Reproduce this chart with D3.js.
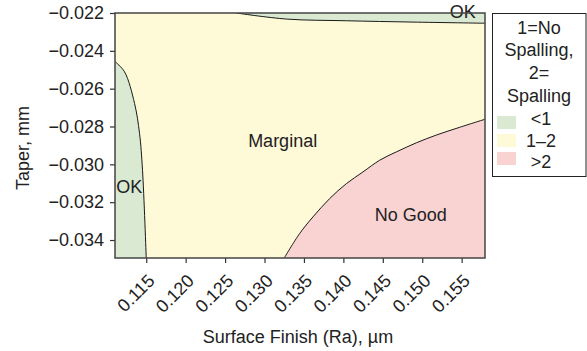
<!DOCTYPE html>
<html>
<head>
<meta charset="utf-8">
<script src="https://cdn.jsdelivr.net/npm/d3@7"></script>
<style>
  body { margin: 0; background: #fff; }
  svg { font-family: "Liberation Sans", Arial, sans-serif; }
</style>
</head>
<body>
<svg id="chart" width="587" height="351"></svg>
<script>
// surface finish (Ra, um) ticks and taper (mm) ticks
const xTicks = [0.115, 0.120, 0.125, 0.130, 0.135, 0.140, 0.145, 0.150, 0.155];
const yTicks = [-0.022, -0.024, -0.026, -0.028, -0.030, -0.032, -0.034];

// contour lines: [Ra, taper]
const leftOkEdge = [
  [0.11107, -0.02458], [0.11225, -0.02511], [0.11352, -0.02678],
  [0.11415, -0.02836], [0.11453, -0.03031], [0.11500, -0.03495]
];
const topOkEdge = [
  [0.12642, -0.02200], [0.13277, -0.02232], [0.14038, -0.02241],
  [0.14883, -0.02248], [0.15793, -0.02254]
];
const noGoodEdge = [
  [0.15793, -0.02762], [0.15476, -0.02804], [0.15180, -0.02845],
  [0.14926, -0.02886], [0.14673, -0.02934], [0.14461, -0.02978],
  [0.14249, -0.03040], [0.14038, -0.03102], [0.13826, -0.03181],
  [0.13614, -0.03278], [0.13445, -0.03366], [0.13250, -0.03495]
];

const legendTitle = ["1=No", "Spalling,", "2=", "Spalling"];
const legendItems = ["<1", "1\u20132", ">2"];
const colors = { ok: "#d9e9d2", marginal: "#fef9d7", bad: "#f9d3d2" };

const xDomain = [0.11104, 0.15796];
const yDomain = [-0.03495, -0.022];

const margin = { left: 115, right: 102, top: 13, bottom: 93 };
const W = 587, H = 351;
const FS = 18;
const svg = d3.select("#chart");

const x = d3.scaleLinear().domain(xDomain).range([margin.left, W - margin.right]);
const y = d3.scaleLinear().domain(yDomain).range([H - margin.bottom, margin.top]);

const line = d3.line().x(d => x(d[0])).y(d => y(d[1])).curve(d3.curveCatmullRom);

svg.append("clipPath").attr("id", "plotclip").append("rect")
  .attr("x", x(xDomain[0])).attr("y", y(yDomain[1]))
  .attr("width", x(xDomain[1]) - x(xDomain[0]))
  .attr("height", y(yDomain[0]) - y(yDomain[1]));

const plot = svg.append("g").attr("clip-path", "url(#plotclip)");

// background = marginal region
plot.append("rect")
  .attr("x", x(xDomain[0])).attr("y", y(yDomain[1]))
  .attr("width", x(xDomain[1]) - x(xDomain[0]))
  .attr("height", y(yDomain[0]) - y(yDomain[1]))
  .attr("fill", colors.marginal);

// close each edge with a plot corner
const region = (edge, corner) =>
  line(edge) + `L${x(corner[0])},${y(corner[1])}Z`;

plot.append("path").attr("d", region(leftOkEdge, [xDomain[0], yDomain[0]])).attr("fill", colors.ok);
plot.append("path").attr("d", region(topOkEdge, [xDomain[1], yDomain[1]])).attr("fill", colors.ok);
plot.append("path").attr("d", region(noGoodEdge, [xDomain[1], yDomain[0]])).attr("fill", colors.bad);

[leftOkEdge, topOkEdge, noGoodEdge].forEach(edge => {
  plot.append("path").attr("d", line(edge))
    .attr("fill", "none").attr("stroke", "#1a1a1a").attr("stroke-width", 1);
});

// region labels (baseline positions)
const regionLabels = [
  { t: "Marginal", x: 0.1323, y: -0.02907 },
  { t: "No Good", x: 0.14854, y: -0.03299 },
  { t: "OK", x: 0.11284, y: -0.03154 },
  { t: "OK", x: 0.15514, y: -0.02228 }
];
svg.append("g").selectAll("text").data(regionLabels).enter().append("text")
  .attr("x", d => x(d.x)).attr("y", d => y(d.y))
  .attr("text-anchor", "middle")
  .attr("font-size", FS).attr("fill", "#222").text(d => d.t);

// axes
const xAxis = svg.append("g").attr("transform", `translate(0,${H - margin.bottom})`)
  .call(d3.axisBottom(x).tickValues(xTicks).tickFormat(d3.format(".3f")).tickSize(5).tickSizeOuter(0));
xAxis.selectAll("text")
  .attr("font-size", FS).attr("fill", "#222")
  .attr("text-anchor", "end")
  .attr("y", 0).attr("dy", 0)
  .attr("transform", "translate(9,24) rotate(-45)");

const yAxis = svg.append("g").attr("transform", `translate(${margin.left},0)`)
  .call(d3.axisLeft(y).tickValues(yTicks).tickFormat(d => d3.format(".3f")(d).replace("-", "\u2212")).tickSize(5).tickSizeOuter(0));
yAxis.selectAll("text").attr("font-size", FS).attr("fill", "#222").attr("x", -11);

[xAxis, yAxis].forEach(a => {
  a.select(".domain").remove();
  a.selectAll("line").attr("stroke", "#333").attr("stroke-width", 1.2);
});

// frame
svg.append("rect")
  .attr("x", x(xDomain[0])).attr("y", y(yDomain[1]))
  .attr("width", x(xDomain[1]) - x(xDomain[0]))
  .attr("height", y(yDomain[0]) - y(yDomain[1]))
  .attr("fill", "none").attr("stroke", "#444").attr("stroke-width", 1.5);

// axis titles
svg.append("text").attr("x", 298).attr("y", 343)
  .attr("text-anchor", "middle").attr("font-size", FS).attr("fill", "#222")
  .text("Surface Finish (Ra), \u00b5m");
svg.append("text")
  .attr("transform", "translate(29,148) rotate(-90)")
  .attr("text-anchor", "middle").attr("font-size", FS).attr("fill", "#222")
  .text("Taper, mm");

// legend
const lg = svg.append("g").attr("transform", "translate(492,13)");
lg.append("rect").attr("x", 0.5).attr("y", 0.5).attr("width", 93.5).attr("height", 163)
  .attr("fill", "#fff").attr("stroke", "#222").attr("stroke-width", 1);
lg.selectAll("text.title").data(legendTitle).enter().append("text")
  .attr("class", "title")
  .attr("x", 47).attr("y", (d, i) => 20.5 + i * 22.8)
  .attr("text-anchor", "middle").attr("font-size", FS).attr("fill", "#222")
  .text(d => d);
const legendColors = [colors.ok, colors.marginal, colors.bad];
const li = lg.selectAll("g.item").data(legendItems).enter().append("g")
  .attr("class", "item");
li.append("rect").attr("x", 5).attr("y", (d, i) => 103 + i * 18)
  .attr("width", 19).attr("height", 13).attr("fill", (d, i) => legendColors[i]);
li.append("text").attr("x", 49).attr("y", (d, i) => 112 + i * 21.5)
  .attr("text-anchor", "middle").attr("font-size", FS).attr("fill", "#222")
  .text(d => d);
</script>
</body>
</html>
